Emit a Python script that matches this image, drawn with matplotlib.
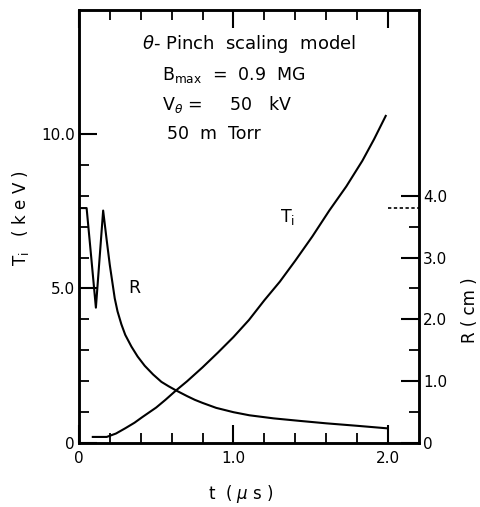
import numpy as np
import matplotlib
matplotlib.use('Agg')
import matplotlib.pyplot as plt

# R(t) in cm
t_R = [0.0, 0.05, 0.08, 0.11, 0.157, 0.179, 0.20, 0.232, 0.25, 0.275, 0.30, 0.34,
       0.38, 0.426, 0.48, 0.534, 0.58, 0.63, 0.70, 0.75, 0.80, 0.888, 1.00,
       1.103, 1.26, 1.426, 1.60, 1.80, 1.99]
R   = [3.8, 3.8, 3.0, 2.19, 3.76, 3.30, 2.88, 2.34, 2.13, 1.92, 1.75, 1.56,
       1.40, 1.25, 1.11, 0.99, 0.92, 0.85, 0.76, 0.70, 0.65, 0.57, 0.50,
       0.45, 0.40, 0.36, 0.32, 0.28, 0.24]

# Ti(t) in keV
t_Ti = [0.09, 0.18, 0.24, 0.30, 0.36, 0.41, 0.50, 0.56, 0.63, 0.70, 0.80, 0.90,
        1.00, 1.10, 1.20, 1.30, 1.40, 1.51, 1.62, 1.73, 1.834, 1.91, 1.985]
Ti   = [0.20, 0.20, 0.31, 0.48, 0.66, 0.84, 1.15, 1.40, 1.71, 2.00, 2.45, 2.93,
        3.43, 3.98, 4.62, 5.22, 5.90, 6.68, 7.52, 8.30, 9.13, 9.83, 10.58]

R_init = 3.8   # dotted marker on the right axis

Fig = plt.figure(figsize=(4.81, 5.07), dpi=100)
Ax = Fig.add_axes([0.164, 0.126, 0.707, 0.854])
Ax2 = Ax.twinx()

Ax.plot(t_Ti, Ti, color='black', lw=1.5)
Ax2.plot(t_R, R, color='black', lw=1.5)
Ax2.plot([2.0, 2.2], [R_init, R_init], color='black', lw=1.2, ls=(0, (2, 1.5)))

Ax.set_xlim(0, 2.2)
Ax.set_ylim(0, 14)
Ax2.set_ylim(0, 7)

Ax.set_xticks([0, 1.0, 2.0])
Ax.set_xticklabels(['0', '1.0', '2.0'])
Ax.set_xticks(np.arange(0.2, 2.0, 0.2), minor=True)
Ax.set_yticks([0, 5, 10])
Ax.set_yticklabels(['0', '5.0', '10.0'])
Ax.set_yticks(np.arange(1, 10, 1), minor=True)
Ax2.set_yticks([0, 1, 2, 3, 4])
Ax2.set_yticklabels(['0', '1.0', '2.0', '3.0', '4.0'])
Ax2.set_yticks(np.arange(0.5, 4.0, 1.0), minor=True)

for a in (Ax, Ax2):
    a.tick_params(which='major', direction='in', length=13, width=1.5, labelsize=11, pad=3)
    a.tick_params(which='minor', direction='in', length=7, width=1.3)
    for s in a.spines.values():
        s.set_linewidth(1.8)
Ax.tick_params(which='both', top=True, right=False)
Ax.tick_params(axis='x', pad=6)
Ax2.tick_params(which='both', left=False, right=True)

Ax.set_xlabel(r't  ( $\mu$ s )', fontsize=12)
Ax.xaxis.set_label_coords(0.476, -0.092)
Ax.set_ylabel(r'T$_\mathregular{i}$   ( k e V )', fontsize=12)
Ax.yaxis.set_label_coords(-0.14, 0.52)
Ax2.set_ylabel('R ( cm )', fontsize=12)
Ax2.yaxis.set_label_coords(1.125, 0.307)

Ax.text(1.10, 12.9, r'$\theta$- Pinch  scaling  model', ha='center', va='center', fontsize=13)
Ax.text(0.54, 11.9, r'B$_\mathregular{max}$  =  0.9  MG', ha='left', va='center', fontsize=12.5)
Ax.text(0.54, 10.95, r'V$_\theta$ =     50   kV', ha='left', va='center', fontsize=12.5)
Ax.text(0.57, 10.0, '50  m  Torr', ha='left', va='center', fontsize=12.5)
Ax.text(0.36, 5.0, 'R', ha='center', va='center', fontsize=12.5)
Ax.text(1.35, 7.3, r'T$_\mathregular{i}$', ha='center', va='center', fontsize=12.5)

Fig.savefig('out.png', dpi=100)
plt.close(Fig)
